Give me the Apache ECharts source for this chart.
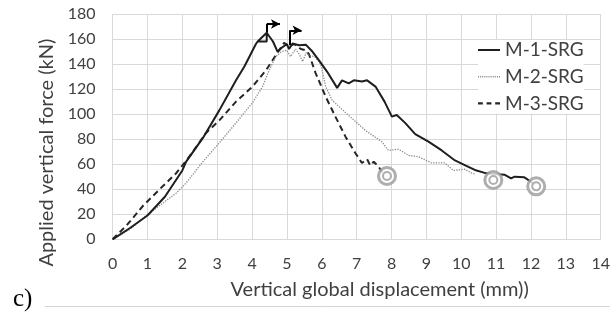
<!DOCTYPE html>
<html><head><meta charset="utf-8">
<script src="https://cdn.jsdelivr.net/npm/echarts@6/dist/echarts.min.js"></script>
<style>html,body{margin:0;padding:0;background:#fff}#c{width:613px;height:315px}</style>
</head><body><div id="c"></div>
<script>
const seriesNames = ['M-1-SRG', 'M-2-SRG', 'M-3-SRG'];
// [displacement (mm), force (kN)]
const m1 = [[0,0],[0.5,9],[1,19],[1.5,34],[2,55],[2.11,62],[2.59,81],[3.06,103],[3.54,127],[3.78,138],[4.11,156],[4.16,158],[4.42,165],[4.42,158],[4.16,158],[4.42,165],[4.6,158],[4.73,150],[4.85,153],[5.0,156],[5.06,152],[5.16,156.5],[5.35,155],[5.54,155.5],[5.73,150],[5.92,143],[6.15,134],[6.44,121],[6.58,127],[6.77,124.6],[6.92,127],[7.15,126],[7.3,127],[7.54,122],[7.8,110],[8.01,98],[8.15,99.3],[8.39,93],[8.68,84],[9.06,78],[9.44,71],[9.82,63],[10.1,59.3],[10.39,55.4],[10.72,52.7],[11.05,52],[11.25,51.5],[11.43,48.7],[11.53,50],[11.81,49.5],[12.0,46],[12.12,43]];
const m2 = [[0,0],[0.5,8],[0.88,17],[1.35,27],[1.83,37],[2.11,45],[2.59,62],[3.06,77],[3.54,93],[4.01,109],[4.3,122],[4.49,135],[4.68,146],[4.85,150],[5.0,151],[5.1,146],[5.25,152],[5.35,148],[5.45,142],[5.55,149],[5.63,147],[5.8,146],[5.97,140],[6.11,122],[6.3,111],[6.77,99],[7.25,87],[7.72,78],[7.91,71],[8.2,72],[8.49,67],[8.77,66],[9.15,61],[9.53,61],[9.77,55],[10.1,56],[10.29,53],[10.4,52]];
const m3 = [[0,0],[0.4,11],[0.88,27],[1.35,40],[1.83,53],[2.2,66],[2.68,85],[3.06,95],[3.54,110],[4.01,122],[4.4,135],[4.68,147],[4.92,157],[5.05,154],[5.2,156],[5.4,152],[5.55,151],[5.63,148],[5.82,133],[6.11,114],[6.39,98],[6.68,82],[6.96,69],[7.15,61],[7.3,64],[7.39,59],[7.49,62],[7.63,58],[7.75,53]];
const endPoints = [[7.87,50.6],[10.92,47.4],[12.15,42.3]];
// peak arrows: [x, yStart, yTop, xArrowEnd]
const arrows = [[4.42,165,172,4.8],[5.09,155,167,5.42]];

const chart = echarts.init(document.getElementById('c'));
const font = 'Lato';
const txt = '#404040';
const arrowLines = [];
arrows.forEach(a => {
  arrowLines.push([{coord:[a[0],a[1]],symbol:'none'},{coord:[a[0],a[2]],symbol:'none'}]);
  arrowLines.push([{coord:[a[0],a[2]],symbol:'none'},{coord:[a[3],a[2]],symbol:'arrow',symbolSize:[7,9]}]);
});
let dots = '';
for (let i = 0; i < 11; i++) dots += 'M' + (2*i) + ',0h1v1.5h-1Z';
const icons = [
  'path://M0,0H22V2H0Z',
  'path://' + dots,
  'path://M0,0H4.5V2H0Z M8,0H12.5V2H8Z M16,0H20.5V2H16Z'
];
chart.setOption({
  animation:false,
  backgroundColor:'#fff',
  grid:{left:112.6,right:9.7,top:14,bottom:75.7},
  xAxis:{type:'value',min:0,max:14,interval:1,
    name:'Vertical global displacement (mm))',nameLocation:'middle',nameGap:40,
    nameTextStyle:{fontFamily:font,fontSize:20,color:txt,padding:[0,0,0,46]},
    axisLine:{show:false},axisTick:{show:false},
    axisLabel:{fontFamily:font,fontSize:16,color:txt,margin:17},
    splitLine:{lineStyle:{color:'#d9d9d9',width:1}}},
  yAxis:{type:'value',min:0,max:180,interval:20,
    name:'Applied vertical force (kN)',nameLocation:'middle',nameGap:49,
    nameTextStyle:{fontFamily:font,fontSize:20,color:txt,padding:[0,52,0,0]},
    axisLine:{show:false},axisTick:{show:false},
    axisLabel:{fontFamily:font,fontSize:16,color:txt,margin:17},
    splitLine:{lineStyle:{color:'#d9d9d9',width:1}}},
  legend:{data:seriesNames.map((n,i)=>({name:n,icon:icons[i]})),orient:'vertical',left:478,top:40,padding:0,
    itemWidth:22,itemHeight:14,itemGap:6.7,backgroundColor:'#fff',symbolKeepAspect:true,
    itemStyle:{borderWidth:0},
    textStyle:{fontFamily:font,fontSize:19,color:txt,lineHeight:20}},
  graphic:[
    {type:'text',left:13,top:287,style:{text:'c)',font:'25px "Liberation Serif"',fill:'#000'}},
    {type:'line',shape:{x1:45,y1:306.5,x2:610,y2:306.5},style:{stroke:'#d4d4d4',lineWidth:1}}
  ],
  series:[
    {name:seriesNames[0],type:'line',data:m1,symbol:'none',z:5,
      lineStyle:{color:'#1e1e1e',width:2,type:'solid'},itemStyle:{color:'#1e1e1e'}},
    {name:seriesNames[1],type:'line',data:m2,symbol:'none',z:4,
      lineStyle:{color:'#8a8a8a',width:1.3,type:'dotted'},itemStyle:{color:'#8a8a8a'}},
    {name:seriesNames[2],type:'line',data:m3,symbol:'none',z:3,
      lineStyle:{color:'#262626',width:2,type:[6,4]},itemStyle:{color:'#262626'}},
    {name:'arrows',type:'line',data:[],markLine:{silent:true,animation:false,
      lineStyle:{color:'#000',width:2,type:'solid'},label:{show:false},emphasis:{disabled:true},
      data:arrowLines}},
    {name:'ends',type:'scatter',data:endPoints,symbol:'circle',symbolSize:17,z:6,
      itemStyle:{color:'#fff',borderColor:'#9a9a9a',borderWidth:3}},
    {name:'endsInner',type:'scatter',data:endPoints,symbol:'circle',symbolSize:8,z:7,
      itemStyle:{color:'#fff',borderColor:'#9a9a9a',borderWidth:2}}
  ]
});
</script></body></html>
